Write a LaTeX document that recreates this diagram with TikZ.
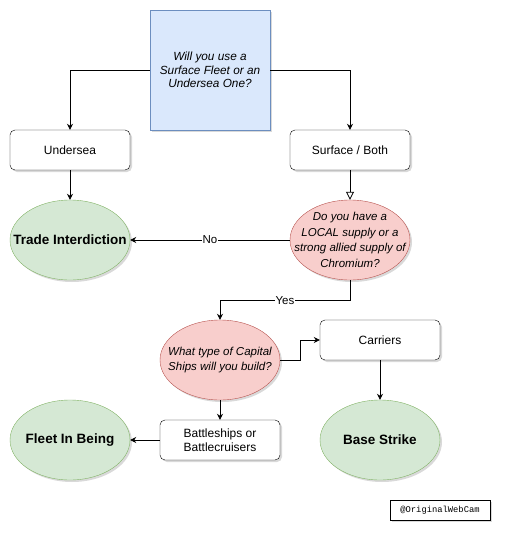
\documentclass[tikz,border=0pt]{standalone}
\usepackage{fontspec}
\setmainfont{Liberation Sans}
\setmonofont{Liberation Mono}
\usetikzlibrary{shapes.geometric,shadows,arrows.meta}

\definecolor{qblue}{HTML}{DAE8FC}
\definecolor{qblueline}{HTML}{6C8EBF}
\definecolor{endgreen}{HTML}{D5E8D4}
\definecolor{endgreenline}{HTML}{82B366}
\definecolor{askred}{HTML}{F8CECC}
\definecolor{askredline}{HTML}{B85450}

\begin{document}
\begin{tikzpicture}[x=1pt,y=-1pt,font=\fontsize{12}{14}\selectfont]

\tikzstyle{shade} = [drop shadow={shadow xshift=2pt,shadow yshift=-2pt,opacity=0.3}]
\tikzstyle{question} = [rectangle, minimum width=120pt, minimum height=120pt, inner sep=0pt, align=center, draw=qblueline, fill=qblue, shade, font=\fontsize{11.8}{13.5}\selectfont\itshape]
\tikzstyle{choice} = [rectangle, rounded corners=5pt, minimum width=120pt, minimum height=40pt, align=center, draw=black, fill=white, shade, font=\fontsize{12}{14}\selectfont]
\tikzstyle{ask} = [ellipse, minimum width=120pt, minimum height=80pt, inner xsep=-20pt, inner ysep=-10pt, align=center, draw=askredline, fill=askred, shade, font=\fontsize{11.5}{15.5}\selectfont\itshape]
\tikzstyle{goal} = [ellipse, minimum width=120pt, minimum height=80pt, inner xsep=-20pt, inner ysep=-10pt, align=center, draw=endgreenline, fill=endgreen, shade, font=\fontsize{13.5}{15}\selectfont\bfseries]
\tikzstyle{arrow} = [thick,-{Stealth[length=6pt,width=6pt]}]
\tikzstyle{openarrow} = [thick,-{Triangle[open,length=8pt,width=8pt]}]
\tikzstyle{tag} = [fill=white, inner sep=1pt, font=\fontsize{11.5}{13}\selectfont]

\useasboundingbox (0,0) rectangle (515,546);

\node (fleet) [question] at (210,70) {Will you use a\\Surface Fleet or an\\Undersea One?};
\node (under) [choice] at (70,150) {Undersea};
\node (surf) [choice] at (350,150) {Surface / Both};
\node (trade) [goal] at (70,240) {Trade Interdiction};
\node (chrome) [ask] at (350,240) {Do you have a\\LOCAL supply or a\\strong allied supply of\\Chromium?};
\node (capital) [ask] at (220,360) {What type of Capital\\Ships will you build?};
\node (carrier) [choice] at (380,340) {Carriers};
\node (battle) [choice] at (220,440) {Battleships or\\Battlecruisers};
\node (being) [goal] at (70,440) {Fleet In Being};
\node (strike) [goal] at (380,440) {Base Strike};
\node (credit) [rectangle, draw=black, fill=white, shade, minimum width=100pt, minimum height=20pt, font=\fontsize{8.8}{10}\selectfont\ttfamily] at (440,510) {@OriginalWebCam};

\draw [arrow] (fleet.west) -| (under.north);
\draw [arrow] (fleet.east) -| (surf.north);
\draw [arrow] (under) -- (trade);
\draw [openarrow] (surf) -- (chrome);
\draw [arrow] (chrome.west) -- node [tag] {No} (trade.east);
\draw [arrow] (chrome.south) |- ++(-65,20) node [tag] {Yes} -| (capital.north);
\draw [arrow] (capital.east) -- ++(20,0) |- (carrier.west);
\draw [arrow] (carrier) -- (strike);
\draw [arrow] (capital) -- (battle);
\draw [arrow] (battle) -- (being);

\end{tikzpicture}
\end{document}
